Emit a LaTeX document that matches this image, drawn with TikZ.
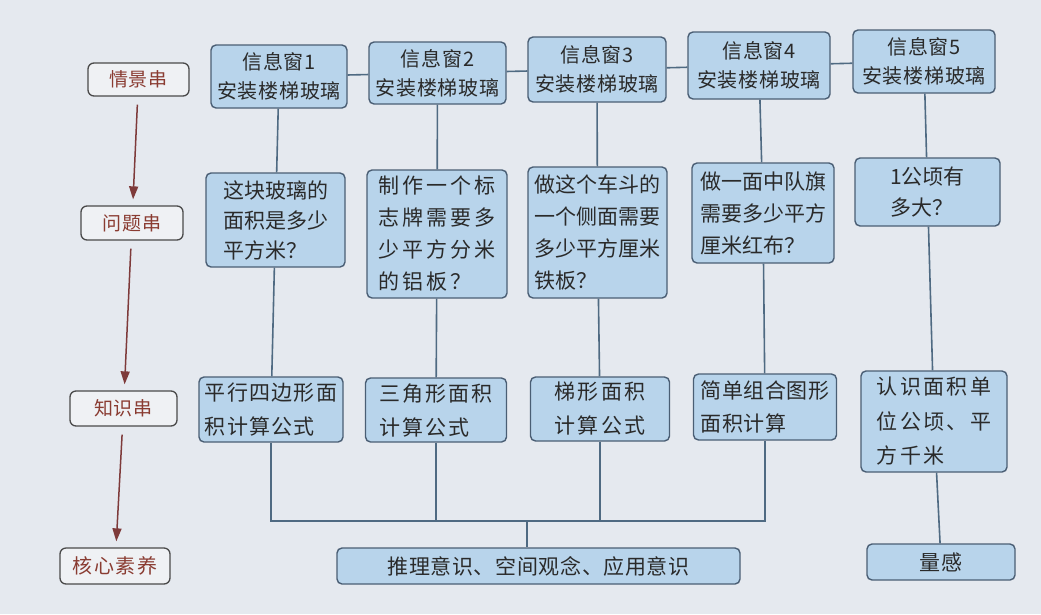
\documentclass[tikz,border=0pt]{standalone}
\usepackage{fontspec}
\setmainfont{Noto Sans CJK SC}
\usetikzlibrary{arrows.meta,calc}
\definecolor{bg}{HTML}{E5E9EF}
\definecolor{boxfill}{HTML}{B8D4EB}
\definecolor{boxline}{HTML}{4A5E74}
\definecolor{linkcol}{HTML}{4F6A82}
\definecolor{lblfill}{HTML}{EFF1F4}
\definecolor{lblline}{HTML}{4A4A4A}
\definecolor{lbltext}{HTML}{8A3C32}
\definecolor{arrcol}{HTML}{7E3A3A}
\definecolor{boxtext}{HTML}{2A2A2A}
\newcommand\ls[1]{\addfontfeature{LetterSpace=#1}}
\tikzset{
  bluebox/.style={draw=boxline, fill=boxfill, rounded corners=5pt, line width=1.4pt,
    inner sep=0pt, align=left, text=boxtext},
  winbox/.style={bluebox, align=center, font=\fontsize{20}{29}\selectfont\ls{4}},
  qbox/.style={bluebox, font=\fontsize{21}{30}\selectfont},
  kbox/.style={bluebox, font=\fontsize{21}{34}\selectfont\ls{6}},
  lblbox/.style={draw=lblline, fill=lblfill, rounded corners=6pt, line width=1.3pt,
    inner sep=0pt, text=lbltext, font=\fontsize{19}{24}\selectfont\ls{4}},
  link/.style={draw=linkcol, line width=1.6pt},
  arr/.style={draw=arrcol, line width=1.5pt, -{Triangle[width=9pt,length=13pt]},
    shorten <=8pt, shorten >=6pt}
}
\begin{document}
\begin{tikzpicture}[x=1pt,y=-1pt]
\fill[bg] (0,0) rectangle (1041,614);
\useasboundingbox (0,0) rectangle (1041,614);

% left labels
\node[lblbox, minimum width=101pt, minimum height=33pt] (l1) at (138.5,79.5) {情景串};
\node[lblbox, minimum width=102pt, minimum height=34pt] (l2) at (132,223) {问题串};
\node[lblbox, minimum width=107pt, minimum height=35pt] (l3) at (123.5,408.5) {知识串};
\node[lblbox, minimum width=110pt, minimum height=36pt, font=\fontsize{20}{24}\selectfont\ls{8}] (l4) at (115,566) {核心素养};

% row 1
\node[winbox, minimum width=136pt, minimum height=63pt] (w1) at (279,76.5) {信息窗1\\安装楼梯玻璃};
\node[winbox, minimum width=137pt, minimum height=62pt] (w2) at (437.5,73) {信息窗2\\安装楼梯玻璃};
\node[winbox, minimum width=138pt, minimum height=65pt] (w3) at (597,69.5) {信息窗3\\安装楼梯玻璃};
\node[winbox, minimum width=142pt, minimum height=67pt] (w4) at (759,65.5) {信息窗4\\安装楼梯玻璃};
\node[winbox, minimum width=142pt, minimum height=63pt] (w5) at (924,61.5) {信息窗5\\安装楼梯玻璃};

% row 2
\node[qbox, minimum width=139pt, minimum height=94pt] (q1) at (275.5,220) {这块玻璃的\\面积是多少\\平方米？};
\node[qbox, minimum width=140pt, minimum height=128pt, font=\fontsize{21}{32}\selectfont\ls{14}] (q2) at (437,234) {制作一个标\\志牌需要多\\少平方分米\\的铝板？};
\node[qbox, minimum width=139pt, minimum height=131pt, font=\fontsize{21}{32}\selectfont] (q3) at (597.5,232.5) {做这个车斗的\\一个侧面需要\\多少平方厘米\\铁板？};
\node[qbox, minimum width=142pt, minimum height=100pt, font=\fontsize{21}{32}\selectfont] (q4) at (763,213) {做一面中队旗\\需要多少平方\\厘米红布？};
\node[qbox, minimum width=145pt, minimum height=68pt, font=\fontsize{21}{31}\selectfont] (q5) at (927.5,192) {1公顷有\\多大？};

% row 3
\node[kbox, minimum width=144pt, minimum height=65pt] (k1) at (271,409.5) {平行四边形面\\积计算公式};
\node[kbox, minimum width=141pt, minimum height=64pt, font=\fontsize{21}{34}\selectfont\ls{10}] (k2) at (436,410) {三角形面积\\计算公式};
\node[kbox, minimum width=139pt, minimum height=64pt, font=\fontsize{21}{34}\selectfont\ls{12}] (k3) at (600,409) {梯形面积\\计算公式};
\node[kbox, minimum width=143pt, minimum height=66pt, font=\fontsize{21}{33}\selectfont\ls{2}] (k4) at (765,407) {简单组合图形\\面积计算};
\node[kbox, minimum width=146pt, minimum height=101pt, font=\fontsize{21}{34.5}\selectfont\ls{11}] (k5) at (934,421.5) {认识面积单\\位公顷、平\\方千米};

% bottom
\node[bluebox, align=center, minimum width=403pt, minimum height=36pt, font=\fontsize{21}{24}\selectfont\ls{3}] (c1) at (538.5,566) {推理意识、空间观念、应用意识};
\node[bluebox, align=center, minimum width=148pt, minimum height=36pt, font=\fontsize{21}{24}\selectfont\ls{3}] (c2) at (941,562) {量感};

% connectors
\draw[link] (w1) -- (w2);
\draw[link] (w2) -- (w3);
\draw[link] (w3) -- (w4);
\draw[link] (w4) -- (w5);
\draw[link] (w1) -- (q1);
\draw[link] (w2) -- (q2);
\draw[link] (w3) -- (q3);
\draw[link] (w4) -- (q4);
\draw[link] (w5) -- (q5);
\draw[link] (q1) -- (k1);
\draw[link] (q2) -- (k2);
\draw[link] (q3) -- (k3);
\draw[link] (q4) -- (k4);
\draw[link] (q5) -- (k5);
\coordinate (bus) at (527,521);
\draw[link] (k1) |- (k4 |- bus) -- (k4);
\draw[link] (k2) -- (k2 |- bus);
\draw[link] (k3) -- (k3 |- bus);
\draw[link] (bus) -- (bus |- c1.north);
\draw[link] (k5) -- (c2);

% arrows
\draw[arr] (l1) -- (l2);
\draw[arr] (l2) -- (l3);
\draw[arr] (l3) -- (l4);
\end{tikzpicture}
\end{document}
